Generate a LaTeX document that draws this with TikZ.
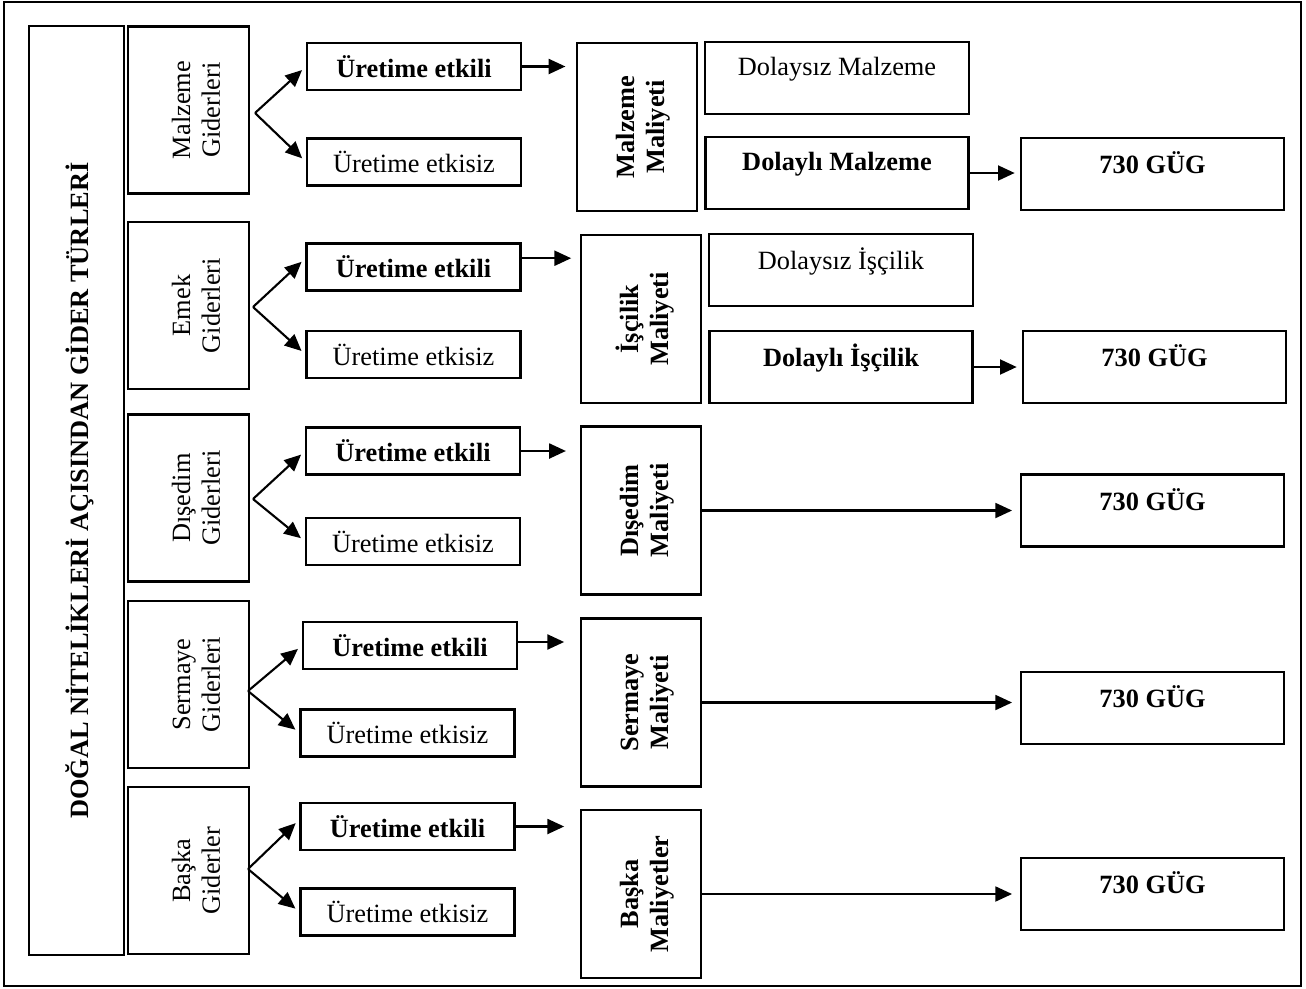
\documentclass[tikz,border=0pt]{standalone}
\usepackage{fontspec}
\setmainfont{Liberation Serif}
\usetikzlibrary{arrows.meta,positioning,calc}

\begin{document}
\begin{tikzpicture}[
  x=0.02cm, y=-0.02cm,
  every node/.style={font=\fontsize{15}{17}\selectfont},
  bold/.style={font=\fontsize{15}{17}\selectfont\bfseries},
  box/.style={rectangle, draw, line width=1.2pt, inner sep=2pt, align=center},
  kind/.style={box, rotate=90, minimum width=3.34cm, minimum height=2.42cm, execute at begin node={\rule{0pt}{36pt}}},
  effect/.style={box, minimum width=4.28cm, minimum height=0.94cm},
  cost/.style={box, bold, rotate=90, minimum width=3.36cm, minimum height=2.4cm, execute at begin node={\rule{0pt}{34pt}}},
  part/.style={box, minimum width=5.28cm, minimum height=1.44cm, text depth=13pt},
  account/.style={part, bold, minimum width=5.26cm},
  branch/.style={-{Triangle[length=9.5pt,width=8.5pt]}, line width=1.2pt, shorten >=3pt},
  pipe/.style={-{Triangle[length=9.5pt,width=8.5pt]}, line width=1.2pt}
]
  \useasboundingbox (0,0) rectangle (1306,988);
  \draw[line width=1.2pt] (4,2) rectangle (1301,986);

  % Title
  \node[box, bold, rotate=90, minimum width=18.58cm, minimum height=1.9cm, text height=17pt] (title) at (76.5,490.5)
    {DOĞAL NİTELİKLERİ AÇISINDAN GİDER TÜRLERİ};

  % Row 1: Malzeme
  \node[kind] (c1) at (188.5,110) {Malzeme\\Giderleri};
  \coordinate (o1) at (255,113);
  \node[effect, bold] (e1) at (414,66.5) {Üretime etkili};
  \node[effect] (k1) at (414,162) {Üretime etkisiz};
  \node[cost] (m1) at (637,127) {Malzeme\\Maliyeti};
  \node[part] (d1) at (837,78) {Dolaysız Malzeme};
  \node[account] (l1) at (837,173) {Dolaylı Malzeme};
  \node[account] (g1) at (1152.5,174) {730 GÜG};

  % Row 2: Emek
  \node[kind] (c2) at (188.5,305.5) {Emek\\Giderleri};
  \coordinate (o2) at (253,307);
  \node[effect, bold] (e2) at (413.5,267) {Üretime etkili};
  \node[effect] (k2) at (413.5,354.5) {Üretime etkisiz};
  \node[cost] (m2) at (641,319) {İşçilik\\Maliyeti};
  \node[part] (d2) at (841,270) {Dolaysız İşçilik};
  \node[account] (l2) at (841,367) {Dolaylı İşçilik};
  \node[account] (g2) at (1154.5,367) {730 GÜG};

  % Row 3: Dışedim
  \node[kind] (c3) at (188.5,498) {Dışedim\\Giderleri};
  \coordinate (o3) at (253,499);
  \node[effect, bold] (e3) at (413,451) {Üretime etkili};
  \node[effect] (k3) at (413,541.5) {Üretime etkisiz};
  \node[cost] (m3) at (641,510.5) {Dışedim\\Maliyeti};
  \node[account] (g3) at (1152.5,510.5) {730 GÜG};

  % Row 4: Sermaye
  \node[kind] (c4) at (188.5,684.5) {Sermaye\\Giderleri};
  \coordinate (o4) at (248,691);
  \node[effect, bold] (e4) at (410,645.5) {Üretime etkili};
  \node[effect] (k4) at (407.5,733) {Üretime etkisiz};
  \node[cost] (m4) at (641,702.5) {Sermaye\\Maliyeti};
  \node[account] (g4) at (1152.5,708) {730 GÜG};

  % Row 5: Başka
  \node[kind] (c5) at (188.5,870.5) {Başka\\Giderler};
  \coordinate (o5) at (248,869);
  \node[effect, bold] (e5) at (407.5,826.5) {Üretime etkili};
  \node[effect] (k5) at (407.5,912) {Üretime etkisiz};
  \node[cost] (m5) at (641,894) {Başka\\Maliyetler};
  \node[account] (g5) at (1152.5,894) {730 GÜG};

  % Branches
  \draw[branch] (o1) -- (e1.west);
  \draw[branch] (o1) -- (k1.west);
  \draw[branch] (o2) -- ([yshift=5pt]e2.west);
  \draw[branch] (o2) -- (k2.west);
  \draw[branch] (o3) -- (e3.west);
  \draw[branch] (o3) -- (k3.west);
  \draw[branch] (o4) -- (e4.west);
  \draw[branch] (o4) -- (k4.west);
  \draw[branch] (o5) -- ([yshift=4pt]e5.west);
  \draw[branch] (o5) -- (k5.west);

  % Pipes to costs
  \draw[pipe, shorten >=6pt] (e1.east) -- (e1.east -| m1.north);
  \draw[pipe, shorten >=5pt] ([yshift=5pt]e2.east) -- ([yshift=5pt]e2.east -| m2.north);
  \draw[pipe, shorten >=8pt] (e3.east) -- (e3.east -| m3.north);
  \draw[pipe, shorten >=9pt] ([yshift=2pt]e4.east) -- ([yshift=2pt]e4.east -| m4.north);
  \draw[pipe, shorten >=9pt] (e5.east) -- (e5.east -| m5.north);

  % Pipes to 730
  \draw[pipe, shorten >=3pt] (l1.east) -- (l1.east -| g1.west);
  \draw[pipe, shorten >=3pt] (l2.east) -- (g2.west);
  \draw[pipe, shorten >=4.5pt] (m3.south) -- (g3.west);
  \draw[pipe, shorten >=4.5pt] (m4.south) -- (m4.south -| g4.west);
  \draw[pipe, shorten >=4.5pt] (m5.south) -- (g5.west);
\end{tikzpicture}
\end{document}
